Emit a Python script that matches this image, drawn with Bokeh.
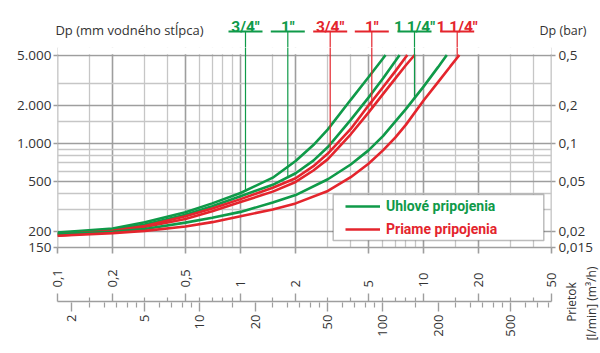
import math
import numpy as np
from bokeh.plotting import figure
from bokeh.models import (FixedTicker, LogAxis, LinearAxis, Range1d, LogScale,
                          Legend, LegendItem, BoxAnnotation)
from bokeh.layouts import column, row
from bokeh.embed import file_html
from bokeh.resources import INLINE
from bokeh.core.properties import value

# ---------------- data ----------------
# flow in m3/h, pressure drop in mm water column
q_uhl_34 = [0.1, 0.2, 0.3, 0.5, 0.7, 1, 1.5, 2, 2.5, 3, 4, 5, 6, 6.2]
dp_uhl_34 = [197, 212, 238, 285, 335, 405, 535, 725, 970, 1290, 2210, 3330, 4690, 5000]

q_uhl_1 = [0.1, 0.2, 0.3, 0.5, 0.7, 1, 1.5, 2, 2.5, 3, 4, 5, 6, 7, 7.4]
dp_uhl_1 = [195, 207, 228, 272, 318, 382, 470, 580, 730, 935, 1535, 2300, 3260, 4460, 5000]

q_pri_34 = [0.1, 0.2, 0.3, 0.5, 0.7, 1, 1.5, 2, 2.5, 3, 4, 5, 6, 7, 8, 8.16]
dp_pri_34 = [190, 203, 222, 265, 305, 362, 445, 530, 660, 830, 1300, 1990, 2780, 3712, 4818, 5000]

q_pri_1 = [0.1, 0.2, 0.3, 0.5, 0.7, 1, 1.5, 2, 2.5, 3, 4, 5, 6, 7, 8, 8.94]
dp_pri_1 = [186, 200, 218, 252, 290, 343, 415, 495, 610, 750, 1180, 1750, 2450, 3250, 4150, 5000]

q_uhl_114 = [0.1, 0.2, 0.3, 0.5, 0.7, 1, 1.5, 2, 3, 4, 5, 6, 7, 8, 10, 12, 13.4]
dp_uhl_114 = [192, 200, 210, 236, 258, 287, 340, 390, 520, 680, 880, 1140, 1484, 1864, 2810, 4008, 5000]

q_pri_114 = [0.1, 0.2, 0.3, 0.5, 0.7, 1, 1.5, 2, 3, 4, 5, 6, 7, 8, 10, 12, 14, 15.7]
dp_pri_114 = [186, 195, 203, 220, 238, 265, 300, 335, 420, 540, 690, 880, 1110, 1400, 2180, 3050, 4060, 5000]

size_labels = ['3/4"', '1"', '3/4"', '1"', '1 1/4"', '1 1/4"']
legend_labels = ["Uhlové pripojenia", "Priame pripojenia"]

flow_major = [0.1, 0.2, 0.5, 1, 2, 5, 10, 20, 50]
flow_major_labels = ["0,1", "0,2", "0,5", "1", "2", "5", "10", "20", "50"]
flow_minor = [0.15, 0.3, 0.4, 0.6, 0.7, 0.8, 0.9, 1.5, 3, 4, 6, 7, 8, 9, 15, 30, 40]
dp_major = [150, 200, 500, 1000, 2000, 5000]
dp_major_labels = ["150", "200", "500", "1.000", "2.000", "5.000"]
bar_labels = ["0,015", "0,02", "0,05", "0,1", "0,2", "0,5"]
dp_minor = [300, 400, 600, 700, 800, 900, 1500, 3000]
lmin_major = [2, 5, 10, 20, 50, 100, 200, 500]
lmin_major_labels = ["2", "5", "10", "20", "50", "100", "200", "500"]
lmin_minor = [2.5, 3, 3.5, 4, 4.5, 6, 7, 8, 9, 15, 25, 30, 35, 40, 45, 60, 70, 80, 90,
              150, 250, 300, 350, 400, 450, 600, 700, 800]

# ---------------- styling / geometry (window pixels) ----------------
GREEN = "#0f9a49"
RED = "#e4252d"
GRID_MAJOR = "#9e9e9e"
GRID_MINOR = "#c6c6c6"
TXT = "#333333"
FONT = "Open Sans"
BOLD_FONT = "Roboto"

W = 600
H_TOP, H_MAIN, H_STRIP = 47, 211, 95
FL, FR = 57, 551            # frame left / right
Y_5000, FB = 54.5, 247      # pixel row of 5000 mm and frame bottom
X0, X1 = 0.1, 50
Y0, Y1 = 150, 5000
DEC = (FB - Y_5000) / math.log10(Y1 / Y0)
Y_TOP = Y1 * 10 ** ((Y_5000 - H_TOP) / DEC)   # value at the top of the main frame


def px_to_q(px):
    return X0 * (X1 / X0) ** ((px - FL) / (FR - FL))


def px_to_dp(py):
    return Y1 * 10 ** ((Y_5000 - py) / DEC)


def dp_at(qs, dps, q):
    return float(10 ** np.interp(np.log10(q), np.log10(qs), np.log10(dps)))


def title_axis(tick_y, text, standoff, size):
    ax = LinearAxis(ticker=FixedTicker(ticks=[tick_y], minor_ticks=[]),
                    major_label_overrides={tick_y: text})
    ax.axis_line_color = None
    ax.major_tick_out = 0
    ax.major_tick_in = 0
    ax.minor_tick_out = 0
    ax.minor_tick_in = 0
    ax.major_label_standoff = standoff
    ax.major_label_text_font = FONT
    ax.major_label_text_font_size = size
    ax.major_label_text_color = TXT
    return ax


curves = [
    (q_uhl_34, dp_uhl_34, GREEN),
    (q_uhl_1, dp_uhl_1, GREEN),
    (q_pri_34, dp_pri_34, RED),
    (q_pri_1, dp_pri_1, RED),
    (q_uhl_114, dp_uhl_114, GREEN),
    (q_pri_114, dp_pri_114, RED),
]
label_px = [245, 287.3, 329.7, 371.3, 414, 456.7]
label_q = [px_to_q(v) for v in label_px]
label_col = [c[2] for c in curves]
TEXT_Y, UNDER_Y, HALF_UL = 26, 31, 17

# ---------------- top strip: size labels and axis titles ----------------
pt = figure(width=W, height=H_TOP, x_axis_type=None, y_axis_type=None,
            x_range=Range1d(X0, X1), y_range=Range1d(H_TOP, 0),
            output_backend="svg", toolbar_location=None,
            min_border_left=FL, min_border_right=W - FR, min_border_top=0, min_border_bottom=0)
pt.x_scale = LogScale()
pt.outline_line_color = None
pt.background_fill_color = "white"
pt.border_fill_color = "white"
pt.text(x=label_q, y=[TEXT_Y] * 6, text=size_labels, text_color=label_col,
        text_font=value(BOLD_FONT), text_font_style="bold", text_font_size="15.5px",
        text_align="center", text_baseline="alphabetic")
pt.segment(x0=[px_to_q(v - HALF_UL) for v in label_px], y0=[UNDER_Y] * 6,
           x1=[px_to_q(v + HALF_UL) for v in label_px], y1=[UNDER_Y] * 6,
           line_color=label_col, line_width=2)
pt.segment(x0=label_q, y0=[UNDER_Y] * 6, x1=label_q, y1=[H_TOP + 1] * 6,
           line_color=label_col, line_width=1.2)
# the two axis titles straddle the frame edges, so they are drawn as axis labels
pt.add_layout(title_axis(29.5, "Dp (mm vodného stĺpca)", -146, "13px"), "left")
pt.add_layout(title_axis(29.5, "Dp (bar)", -12, "12.5px"), "right")

# ---------------- main chart ----------------
p = figure(width=W, height=H_MAIN, x_axis_type="log", y_axis_type="log",
           x_range=Range1d(X0 * (1 - 1e-4), X1 * (1 + 1e-4)), y_range=Range1d(Y0, Y_TOP),
           output_backend="svg", toolbar_location=None,
           min_border_left=FL, min_border_right=W - FR, min_border_top=0,
           min_border_bottom=H_MAIN - (FB - H_TOP))
p.background_fill_color = "white"
p.border_fill_color = "white"
p.outline_line_color = None

xa = p.xaxis[0]
xa.ticker = FixedTicker(ticks=flow_major, minor_ticks=[])
xa.major_label_overrides = {t: "" for t in flow_major}
xa.major_label_text_font_size = "0px"
xa.major_label_standoff = 0
xa.major_tick_out = 6
xa.major_tick_in = 0
xa.minor_tick_out = 0
xa.minor_tick_in = 0
xa.axis_line_color = GRID_MAJOR
xa.axis_line_width = 1.6
xa.major_tick_line_color = GRID_MAJOR
xa.major_tick_line_width = 1.6

ya = p.yaxis[0]
ya.ticker = FixedTicker(ticks=dp_major, minor_ticks=[])
ya.major_label_overrides = dict(zip(dp_major, dp_major_labels))
ya.axis_line_color = None
ya.major_tick_out = 4
ya.major_tick_in = 0
ya.minor_tick_out = 0
ya.minor_tick_in = 0
ya.major_tick_line_color = GRID_MAJOR
ya.major_tick_line_width = 1.6
ya.major_label_standoff = 2
ya.major_label_text_font = FONT
ya.major_label_text_font_size = "13.5px"
ya.major_label_text_color = TXT

yr = LogAxis(ticker=FixedTicker(ticks=dp_major, minor_ticks=[]),
             major_label_overrides=dict(zip(dp_major, bar_labels)))
yr.axis_line_color = None
yr.major_tick_out = 4
yr.major_tick_in = 0
yr.minor_tick_out = 0
yr.minor_tick_in = 0
yr.major_tick_line_color = GRID_MAJOR
yr.major_tick_line_width = 1.6
yr.major_label_standoff = 3
yr.major_label_text_font = FONT
yr.major_label_text_font_size = "13.5px"
yr.major_label_text_color = TXT
p.add_layout(yr, "right")

p.xgrid[0].ticker = FixedTicker(ticks=flow_major, minor_ticks=flow_minor)
p.ygrid[0].ticker = FixedTicker(ticks=dp_major, minor_ticks=dp_minor)
for g in (p.xgrid[0], p.ygrid[0]):
    g.grid_line_color = GRID_MAJOR
    g.grid_line_width = 1.6
    g.minor_grid_line_color = GRID_MINOR
    g.minor_grid_line_width = 1.3

# hide the grid above the 5000 line (the frame reaches up to the label strip)
p.quad(left=[X0 * 0.99], right=[X1 * 1.01], bottom=[px_to_dp(Y_5000 - 0.8)], top=[Y_TOP * 1.01],
       fill_color="white", line_color=None)

renderers = []
for qs, dps, col in curves:
    renderers.append(p.line(qs, dps, line_color=col, line_width=2.6))

# leaders from the size labels down to their curve
p.segment(x0=label_q, y0=[Y_TOP * 1.01] * 6, x1=label_q,
          y1=[dp_at(qs, dps, q) for (qs, dps, _), q in zip(curves, label_q)],
          line_color=label_col, line_width=1.2)

# legend box and the two coloured entries
p.add_layout(BoxAnnotation(left=px_to_q(332.7), right=px_to_q(543.3),
                           top=px_to_dp(194), bottom=px_to_dp(240),
                           fill_color="white", fill_alpha=1.0,
                           line_color="#222222", line_width=1.5))
for lab, rend, col, cy in ((legend_labels[0], renderers[0], GREEN, 206),
                           (legend_labels[1], renderers[2], RED, 229.3)):
    lg = Legend(items=[LegendItem(label=lab, renderers=[rend])],
                location=(345 - FL, FB - (cy + 10)),
                border_line_color=None, background_fill_alpha=0,
                padding=0, margin=0, spacing=0,
                glyph_width=35, glyph_height=20, label_height=20,
                label_standoff=6, label_text_font=BOLD_FONT,
                label_text_font_style="bold", label_text_font_size="14px",
                label_text_color=col, label_text_baseline="middle")
    p.add_layout(lg)

# ---------------- flow axes strip (m3/h above, l/min below) ----------------
W2 = 560
p2 = figure(width=W2, height=H_STRIP, x_axis_type="log", x_axis_location="above",
            y_axis_type=None, x_range=Range1d(X0, X1), y_range=Range1d(0, 1),
            output_backend="svg", toolbar_location=None,
            min_border_left=FL, min_border_right=W2 - FR, min_border_top=43,
            min_border_bottom=H_STRIP - 44)
p2.outline_line_color = None
p2.grid.visible = False
p2.background_fill_color = "white"
p2.border_fill_color = "white"

ta = p2.xaxis[0]
ta.ticker = FixedTicker(ticks=flow_major, minor_ticks=flow_minor)
ta.major_label_overrides = dict(zip(flow_major, flow_major_labels))
ta.major_label_orientation = math.pi / 2
ta.major_label_standoff = 6
ta.major_label_text_font = FONT
ta.major_label_text_font_size = "13px"
ta.major_label_text_color = TXT
ta.axis_line_color = GRID_MAJOR
ta.axis_line_width = 1.6
ta.major_tick_out = 8
ta.major_tick_in = 0
ta.minor_tick_out = 4
ta.minor_tick_in = 0
ta.major_tick_line_color = GRID_MAJOR
ta.minor_tick_line_color = GRID_MAJOR
ta.major_tick_line_width = 1.4
ta.minor_tick_line_width = 1.2

p2.extra_x_ranges = {"lmin": Range1d(X0 * 1000 / 60, X1 * 1000 / 60)}
p2.extra_x_scales = {"lmin": LogScale()}
ba = LogAxis(x_range_name="lmin", ticker=FixedTicker(ticks=lmin_major, minor_ticks=lmin_minor),
             major_label_overrides=dict(zip(lmin_major, lmin_major_labels)))
ba.major_label_orientation = math.pi / 2
ba.major_label_standoff = 3
ba.major_label_text_font = FONT
ba.major_label_text_font_size = "13px"
ba.major_label_text_color = TXT
ba.axis_line_color = None
ba.major_tick_out = 9
ba.major_tick_in = 0
ba.minor_tick_out = 5
ba.minor_tick_in = 0
ba.major_tick_line_color = GRID_MAJOR
ba.minor_tick_line_color = GRID_MAJOR
ba.major_tick_line_width = 1.4
ba.minor_tick_line_width = 1.2
p2.add_layout(ba, "below")

# ---------------- axis title of the flow axes (two rotated lines) ----------------
p3 = figure(width=W - W2, height=H_STRIP, x_axis_type=None, y_axis_type=None,
            x_range=Range1d(0, 1), y_range=Range1d(0, 1),
            output_backend="svg", toolbar_location=None,
            min_border_left=0, min_border_right=0, min_border_top=43,
            min_border_bottom=H_STRIP - 44)
p3.outline_line_color = None
p3.background_fill_color = "white"
p3.border_fill_color = "white"
for txt, standoff in (("[l/min]  (m³/h)", 1), ("Prietok", 0)):
    ax = LinearAxis(ticker=FixedTicker(ticks=[], minor_ticks=[]), axis_label=txt)
    ax.axis_line_color = None
    ax.major_tick_out = 0
    ax.major_tick_in = 0
    ax.minor_tick_out = 0
    ax.minor_tick_in = 0
    ax.major_label_standoff = 0
    ax.axis_label_standoff = standoff
    ax.axis_label_text_font = FONT
    ax.axis_label_text_font_size = "12px"
    ax.axis_label_text_font_style = "normal"
    ax.axis_label_text_color = TXT
    p3.add_layout(ax, "left")

layout = column(pt, p, row(p2, p3))
open("out.html", "w").write(file_html(layout, INLINE))
